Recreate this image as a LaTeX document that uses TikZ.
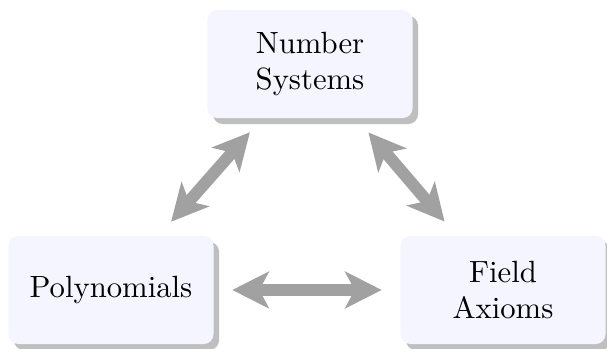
\documentclass[tikz,border=0pt]{standalone}
\usepackage{tikz}
\usetikzlibrary{arrows.meta,shadows}
\tikzset{>={Stealth[length=11.9pt,width=11.9pt,inset=3.1pt]}}
\tikzset{
	topic/.style={rectangle, rounded corners=3.2pt, fill=blue!4, align=center,
		minimum width=66.8pt, minimum height=35.2pt, inner sep=0pt,
		drop shadow={shadow xshift=1.8pt, shadow yshift=-1.95pt, fill=black!25, opacity=1}},
	link/.style={<->, line width=3.9pt, draw=black!37, fill=black!37, shorten <=5.9pt, shorten >=5.9pt}
}

\begin{document}
\begin{tikzpicture}[x=0.3257pt, y=0.3257pt]
    \useasboundingbox(0, 0)rectangle(607, 349);
    \node[topic](num)at(310, 285){Number\\Systems};
    \node[topic](poly)at(111, 59){Polynomials};
    \node[topic](field)at(503, 59){Field\\Axioms};
    \draw[link](poly)--(num);
    \draw[link](num)--(field);
    \draw[link](poly)--(field);
\end{tikzpicture}
\end{document}
